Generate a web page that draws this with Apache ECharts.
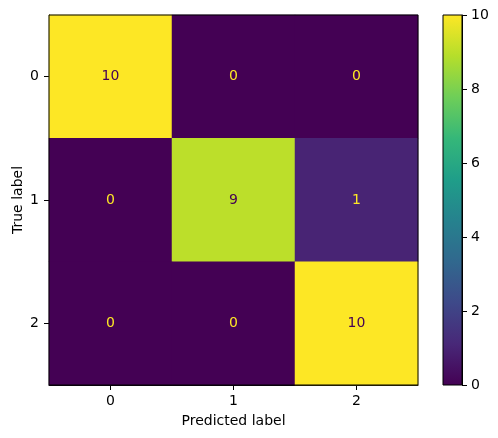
<!DOCTYPE html>
<html><head><meta charset="utf-8">
<script src="https://cdn.jsdelivr.net/npm/echarts@6/dist/echarts.min.js"></script>
<style>html,body{margin:0;padding:0;background:#fff}#c{width:498px;height:438px}</style>
</head><body><div id="c"></div>
<script>
var predictedLabels = ['0', '1', '2'];
var trueLabels = ['0', '1', '2'];
var matrix = [
  [10, 0, 0],
  [0, 9, 1],
  [0, 0, 10]
];
var colorbarTicks = [0, 2, 4, 6, 8, 10];
var viridis = ['#440154', '#482878', '#3e4989', '#31688e', '#26828e', '#1f9e89', '#35b779', '#6ece58', '#b5de2b', '#fde725'];

var vmin = 0, vmax = 10;
var data = [];
for (var i = 0; i < trueLabels.length; i++) {
  for (var j = 0; j < predictedLabels.length; j++) {
    var v = matrix[i][j];
    data.push({
      value: [j, i, v],
      label: { color: v >= (vmin + vmax) / 2 ? viridis[0] : viridis[viridis.length - 1] }
    });
  }
}
var stops = viridis.map(function (c, k) { return { offset: 1 - k / (viridis.length - 1), color: c }; });
var font = 'DejaVu Sans';
var fs = 14;
var G0 = { left: 49, top: 15, width: 369, height: 370, outerBoundsMode: 'none', containLabel: false };
var G1 = { left: 443, top: 15, width: 19, height: 370, outerBoundsMode: 'none', containLabel: false };
var tickStyle = { show: true, length: 5, lineStyle: { color: '#000', width: 1 } };
var lineStyle = { show: true, lineStyle: { color: '#000', width: 1 } };

var chart = echarts.init(document.getElementById('c'), null, { renderer: 'canvas' });
chart.setOption({
  animation: false,
  textStyle: { fontFamily: font },
  grid: [G0, G1],
  visualMap: {
    show: false, min: vmin, max: vmax, dimension: 2, seriesIndex: 0,
    inRange: { color: viridis }
  },
  xAxis: [
    { type: 'category', gridIndex: 0, data: predictedLabels, position: 'bottom',
      name: 'Predicted label', nameLocation: 'middle', nameGap: 29, nameMoveOverlap: false,
      nameTextStyle: { fontFamily: font, fontSize: fs, color: '#000' },
      axisLine: lineStyle, axisTick: Object.assign({ alignWithLabel: true }, tickStyle),
      axisLabel: { fontFamily: font, fontSize: fs, color: '#000', margin: 9 },
      splitLine: { show: false }, splitArea: { show: false } },
    { type: 'category', gridIndex: 1, data: ['c'], position: 'bottom',
      axisLine: { show: false }, axisTick: { show: false }, axisLabel: { show: false } }
  ],
  yAxis: [
    { type: 'category', gridIndex: 0, data: trueLabels, inverse: true, position: 'left',
      name: 'True label', nameLocation: 'middle', nameGap: 24, nameRotate: 90, nameMoveOverlap: false,
      nameTextStyle: { fontFamily: font, fontSize: fs, color: '#000' },
      axisLine: lineStyle, axisTick: Object.assign({ alignWithLabel: true }, tickStyle),
      axisLabel: { fontFamily: font, fontSize: fs, color: '#000', margin: 10 },
      splitLine: { show: false }, splitArea: { show: false } },
    { type: 'value', gridIndex: 1, min: 0, max: 10, interval: 2, position: 'right',
      axisLine: lineStyle, axisTick: tickStyle,
      axisLabel: { fontFamily: font, fontSize: fs, color: '#000', margin: 9,
        formatter: function (v) { return colorbarTicks.indexOf(v) >= 0 ? String(v) : ''; } },
      splitLine: { show: false } }
  ],
  series: [
    { type: 'heatmap', xAxisIndex: 0, yAxisIndex: 0, data: data,
      label: { show: true, fontFamily: font, fontSize: fs, formatter: function (p) { return String(p.value[2]); } },
      itemStyle: { borderWidth: 0 }, emphasis: { disabled: true } },
    { type: 'bar', xAxisIndex: 1, yAxisIndex: 1, data: [vmax], barWidth: '100%', silent: true,
      itemStyle: { color: { type: 'linear', x: 0, y: 0, x2: 0, y2: 1, colorStops: stops } } }
  ],
  graphic: [
    { type: 'rect', z: 100, silent: true, shape: { x: G0.left, y: G0.top, width: G0.width, height: G0.height },
      style: { fill: 'none', stroke: '#000', lineWidth: 1 } },
    { type: 'rect', z: 100, silent: true, shape: { x: G1.left, y: G1.top, width: G1.width, height: G1.height },
      style: { fill: 'none', stroke: '#000', lineWidth: 1 } }
  ]
});
</script></body></html>
